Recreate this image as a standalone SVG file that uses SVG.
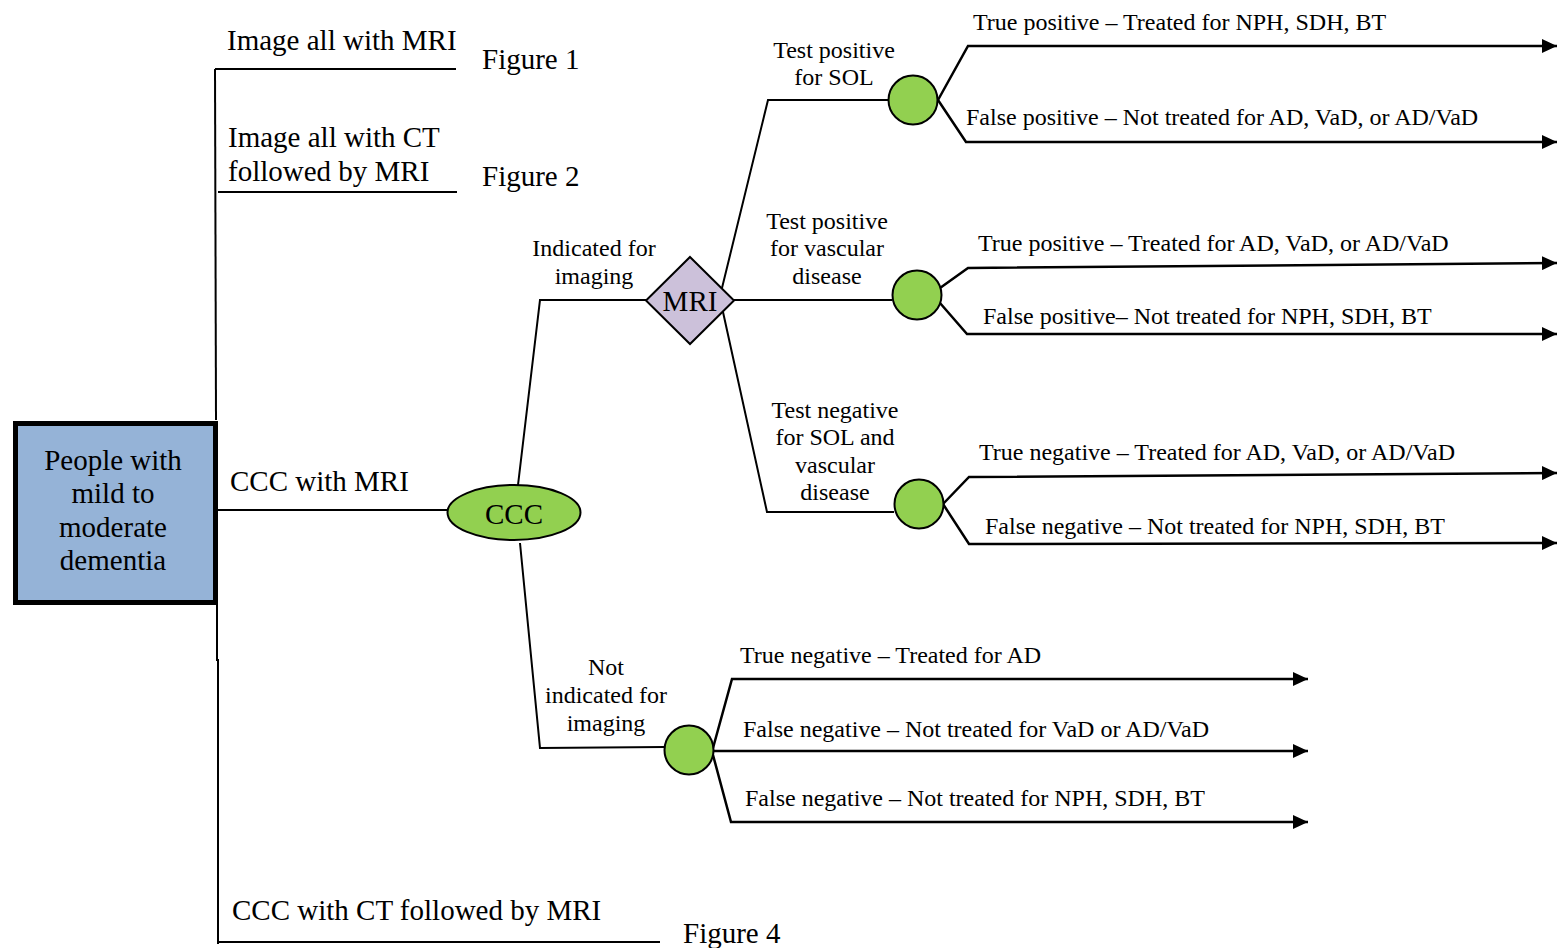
<svg xmlns="http://www.w3.org/2000/svg" width="1558" height="948" viewBox="0 0 1558 948">
<defs>
<marker id="arr" markerUnits="userSpaceOnUse" markerWidth="16" markerHeight="14" refX="15" refY="7" orient="auto">
<path d="M0,0 L15,7 L0,14 z" fill="#000"/>
</marker>
<style>
.t{font-family:"Liberation Serif","Times New Roman",serif;fill:#000}
.big{font-size:29px}
.med{font-size:24px}
.mid{text-anchor:middle}
.ln{fill:none;stroke:#000;stroke-width:2}
.out{fill:none;stroke:#000;stroke-width:2.5;marker-end:url(#arr)}
.chance{fill:#92D050;stroke:#000;stroke-width:2}
</style>
</defs>
<rect width="1558" height="948" fill="#fff"/>

<g id="connectors">
<polyline class="ln" points="215,69 216,420"/>
<polyline class="ln" points="217,604 217,660 218,660 218,944"/>
<line class="ln" x1="215" y1="69" x2="456" y2="69"/>
<line class="ln" x1="218" y1="192" x2="457" y2="192"/>
<line class="ln" x1="217" y1="510" x2="448" y2="510"/>
<line class="ln" x1="218" y1="942" x2="660" y2="942"/>
<polyline class="ln" points="518,485 540,300 647,300"/>
<polyline class="ln" points="520,543 540,748 665,747"/>
<polyline class="ln" points="722,288 768,100 888,100"/>
<line class="ln" x1="734" y1="300" x2="892" y2="300"/>
<polyline class="ln" points="723,312 767,512 894,512"/>
<polyline class="out" points="938,100 968,46 1557,46"/>
<polyline class="out" points="938,100 966,142 1557,142"/>
<polyline class="out" points="940,288 968,268 1557,263"/>
<polyline class="out" points="940,303 967,334 1557,334"/>
<polyline class="out" points="943,504 969,477 1557,473"/>
<polyline class="out" points="943,504 969,544 1557,543"/>
<polyline class="out" points="713,748 732,679 1308,679"/>
<line class="out" x1="713" y1="751" x2="1308" y2="751"/>
<polyline class="out" points="713,755 731,822 1308,822"/>
</g>

<g id="root">
<rect x="15.5" y="423.5" width="200" height="179" fill="#95B3D7" stroke="#000" stroke-width="5"/>
<text class="t big mid" x="113" y="470">People with</text>
<text class="t big mid" x="113" y="503">mild to</text>
<text class="t big mid" x="113" y="537">moderate</text>
<text class="t big mid" x="113" y="570">dementia</text>
</g>

<g id="strategy-mri">
<text class="t big" x="227" y="50">Image all with MRI</text>
<text class="t big" x="482" y="69">Figure 1</text>
</g>
<g id="strategy-ct">
<text class="t big" x="228" y="147">Image all with CT</text>
<text class="t big" x="228" y="181">followed by MRI</text>
<text class="t big" x="482" y="186">Figure 2</text>
</g>
<g id="strategy-ccc-mri">
<text class="t big" x="230" y="491">CCC with MRI</text>
</g>
<g id="strategy-ccc-ct">
<text class="t big" x="232" y="920">CCC with CT followed by MRI</text>
<text class="t big" x="683" y="943">Figure 4</text>
</g>

<g id="ccc">
<ellipse cx="514" cy="512.5" rx="66.5" ry="27.5" class="chance"/>
<text class="t big mid" x="514" y="524">CCC</text>
</g>
<g id="label-indicated">
<text class="t med mid" x="594" y="256">Indicated for</text>
<text class="t med mid" x="594" y="284">imaging</text>
</g>
<g id="label-not-indicated">
<text class="t med mid" x="606" y="675">Not</text>
<text class="t med mid" x="606" y="703">indicated for</text>
<text class="t med mid" x="606" y="731">imaging</text>
</g>

<g id="mri">
<polygon points="690,257 734,300.5 690,344 646,300.5" fill="#CCC1DA" stroke="#000" stroke-width="2"/>
<text class="t big mid" x="690" y="311">MRI</text>
</g>

<g id="node-sol">
<circle cx="913" cy="100" r="24.5" class="chance"/>
<text class="t med mid" x="834" y="58">Test positive</text>
<text class="t med mid" x="834" y="85">for SOL</text>
<text class="t med" x="973" y="30">True positive – Treated for NPH, SDH, BT</text>
<text class="t med" x="966" y="125">False positive – Not treated for AD, VaD, or AD/VaD</text>
</g>

<g id="node-vascular">
<circle cx="917" cy="295" r="24.5" class="chance"/>
<text class="t med mid" x="827" y="229">Test positive</text>
<text class="t med mid" x="827" y="256">for vascular</text>
<text class="t med mid" x="827" y="284">disease</text>
<text class="t med" x="978" y="251">True positive – Treated for AD, VaD, or AD/VaD</text>
<text class="t med" x="983" y="324">False positive– Not treated for NPH, SDH, BT</text>
</g>

<g id="node-negative">
<circle cx="919" cy="504" r="24.5" class="chance"/>
<text class="t med mid" x="835" y="418">Test negative</text>
<text class="t med mid" x="835" y="445">for SOL and</text>
<text class="t med mid" x="835" y="473">vascular</text>
<text class="t med mid" x="835" y="500">disease</text>
<text class="t med" x="979" y="460">True negative – Treated for AD, VaD, or AD/VaD</text>
<text class="t med" x="985" y="534">False negative – Not treated for NPH, SDH, BT</text>
</g>

<g id="node-not-indicated">
<circle cx="689" cy="750" r="24.5" class="chance"/>
<text class="t med" x="740" y="663">True negative – Treated for AD</text>
<text class="t med" x="743" y="737">False negative – Not treated for VaD or AD/VaD</text>
<text class="t med" x="745" y="806">False negative – Not treated for NPH, SDH, BT</text>
</g>
</svg>
